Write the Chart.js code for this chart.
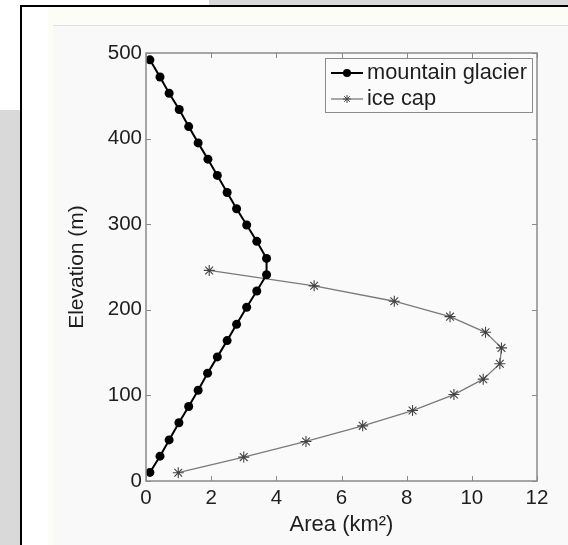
<!DOCTYPE html>
<html>
<head>
<meta charset="utf-8">
<script src="https://cdn.jsdelivr.net/npm/chart.js@4"></script>
<style>
  html, body { margin:0; padding:0; background:#ffffff; }
  body { width:568px; height:545px; position:relative; overflow:hidden; }
  .deco { position:absolute; }
  #chartWrap { position:absolute; left:0; top:0; width:568px; height:545px; }
</style>
</head>
<body>
<div class="deco" style="left:209px;top:0;width:359px;height:5px;background:#d9d9d9;"></div>
<div class="deco" style="left:0;top:110px;width:20px;height:435px;background:#d9d9d9;"></div>
<div class="deco" style="left:48px;top:7px;width:520px;height:538px;background:#fdfdf7;"></div>
<div class="deco" style="left:53px;top:25px;width:515px;height:520px;background:#f9f9f9;border-top:1px solid #e3e3e3;"></div>
<div class="deco" style="left:20px;top:5px;width:548px;height:2px;background:#000;"></div>
<div class="deco" style="left:20px;top:5px;width:2px;height:540px;background:#000;"></div>
<div id="chartWrap"><canvas id="c" width="568" height="545"></canvas></div>
<script>
// ---- data ----
const mgElevation = [10, 29, 48, 68, 87, 106, 126, 145, 164, 183, 203, 222, 241, 260, 280, 299, 318, 337, 357, 376, 395, 414, 434, 453, 472, 492];
const mgArea      = [0.12, 0.43, 0.71, 1.01, 1.31, 1.60, 1.89, 2.19, 2.49, 2.78, 3.09, 3.40, 3.70, 3.70, 3.40, 3.09, 2.78, 2.49, 2.19, 1.90, 1.60, 1.31, 1.02, 0.71, 0.43, 0.12];
const icElevation = [9.7, 27.9, 46.2, 64.4, 82.3, 101, 119, 137, 155.5, 173.7, 192, 210, 228, 246];
const icArea      = [0.99, 3.0, 4.91, 6.65, 8.18, 9.45, 10.35, 10.86, 10.91, 10.42, 9.33, 7.62, 5.16, 1.94];
const seriesNames = ["mountain glacier", "ice cap"];
const xTicks = [0, 2, 4, 6, 8, 10, 12];
const yTicks = [0, 100, 200, 300, 400, 500];
const xTitle = "Area (km\u00B2)";
const yTitle = "Elevation (m)";

const FONT = "'Liberation Sans', Arial, sans-serif";
const AXIS_COLOR = '#8a8a8a';

function pts(xs, ys) { return xs.map((x, i) => ({ x: x, y: ys[i] })); }

const boxTicksPlugin = {
  id: 'boxTicks',
  beforeDatasetsDraw(chart) {
    const { ctx, chartArea: a } = chart;
    ctx.save();
    ctx.fillStyle = '#fafafa';
    ctx.fillRect(a.left, a.top, a.right - a.left, a.bottom - a.top);
    ctx.restore();
  },
  afterDatasetsDraw(chart) {
    const { ctx, chartArea: a, scales } = chart;
    ctx.save();
    ctx.strokeStyle = AXIS_COLOR;
    ctx.lineWidth = 1.5;
    ctx.strokeRect(a.left, a.top, a.right - a.left, a.bottom - a.top);
    ctx.lineWidth = 1;
    const L = 5;
    ctx.beginPath();
    xTicks.forEach(v => {
      const px = Math.round(scales.x.getPixelForValue(v)) + 0.5;
      ctx.moveTo(px, a.bottom); ctx.lineTo(px, a.bottom - L);
      ctx.moveTo(px, a.top); ctx.lineTo(px, a.top + L);
    });
    yTicks.forEach(v => {
      const py = Math.round(scales.y.getPixelForValue(v)) + 0.5;
      ctx.moveTo(a.left, py); ctx.lineTo(a.left + L, py);
      ctx.moveTo(a.right, py); ctx.lineTo(a.right - L, py);
    });
    ctx.stroke();

    // legend
    const bx = 325, by = 58, bw = 207, bh = 54;
    ctx.fillStyle = '#fbfbfb';
    ctx.fillRect(bx, by, bw, bh);
    ctx.strokeStyle = '#8a8a8a';
    ctx.lineWidth = 1;
    ctx.strokeRect(bx + 0.5, by + 0.5, bw, bh);
    const rows = [73, 99];
    chart.data.datasets.forEach((ds, i) => {
      const y = rows[i];
      ctx.strokeStyle = ds.borderColor;
      ctx.lineWidth = ds.borderWidth;
      ctx.beginPath();
      ctx.moveTo(331, y); ctx.lineTo(363, y);
      ctx.stroke();
      const cx = 347;
      if (ds.pointStyle === 'circle') {
        ctx.fillStyle = ds.pointBackgroundColor;
        ctx.beginPath(); ctx.arc(cx, y, 4, 0, Math.PI * 2); ctx.fill();
      } else {
        ctx.strokeStyle = ds.pointBorderColor;
        ctx.lineWidth = 1;
        const r = 4;
        ctx.beginPath();
        for (let k = 0; k < 4; k++) {
          const ang = k * Math.PI / 4;
          ctx.moveTo(cx - r * Math.cos(ang), y - r * Math.sin(ang));
          ctx.lineTo(cx + r * Math.cos(ang), y + r * Math.sin(ang));
        }
        ctx.stroke();
      }
      ctx.fillStyle = '#1e1e1e';
      ctx.font = "21.8px " + FONT;
      ctx.textBaseline = 'middle';
      ctx.textAlign = 'left';
      ctx.fillText(ds.label, 367, y);
    });
    ctx.restore();
  }
};

new Chart(document.getElementById('c'), {
  type: 'scatter',
  data: {
    datasets: [
      {
        label: seriesNames[0],
        data: pts(mgArea, mgElevation),
        showLine: true,
        borderColor: '#000000',
        borderWidth: 2,
        pointStyle: 'circle',
        pointRadius: 4.5,
        pointBackgroundColor: '#000000',
        pointBorderColor: '#000000',
        pointBorderWidth: 0,
        tension: 0
      },
      {
        label: seriesNames[1],
        data: pts(icArea, icElevation),
        showLine: true,
        borderColor: '#7a7a7a',
        borderWidth: 1.3,
        pointStyle: 'star',
        pointRadius: 5.5,
        pointBackgroundColor: '#444444',
        pointBorderColor: '#444444',
        pointBorderWidth: 1.1,
        tension: 0
      }
    ]
  },
  options: {
    responsive: false,
    animation: false,
    devicePixelRatio: 1,
    layout: { padding: { left: 60, top: 53, right: 31, bottom: 0 } },
    plugins: { legend: { display: false }, tooltip: { enabled: false } },
    scales: {
      x: {
        type: 'linear', min: 0, max: 12,
        afterFit(s) { s.height = 64; },
        afterBuildTicks(s) { s.ticks = xTicks.map(v => ({ value: v })); },
        grid: { display: false, drawTicks: false },
        border: { display: false },
        ticks: { color: '#1e1e1e', font: { family: FONT, size: 20.5 }, padding: 5, maxRotation: 0 },
        title: { display: true, text: xTitle, color: '#1e1e1e', font: { family: FONT, size: 22 }, padding: { top: 0, bottom: 7 } }
      },
      y: {
        type: 'linear', min: 0, max: 500,
        afterFit(s) { s.width = 86; },
        afterBuildTicks(s) { s.ticks = yTicks.map(v => ({ value: v })); },
        grid: { display: false, drawTicks: false },
        border: { display: false },
        ticks: { color: '#1e1e1e', font: { family: FONT, size: 20.5 }, padding: 4 },
        title: { display: true, text: yTitle, color: '#1e1e1e', font: { family: FONT, size: 21 }, padding: { top: 5, bottom: 0 } }
      }
    }
  },
  plugins: [boxTicksPlugin]
});
</script>
</body>
</html>
